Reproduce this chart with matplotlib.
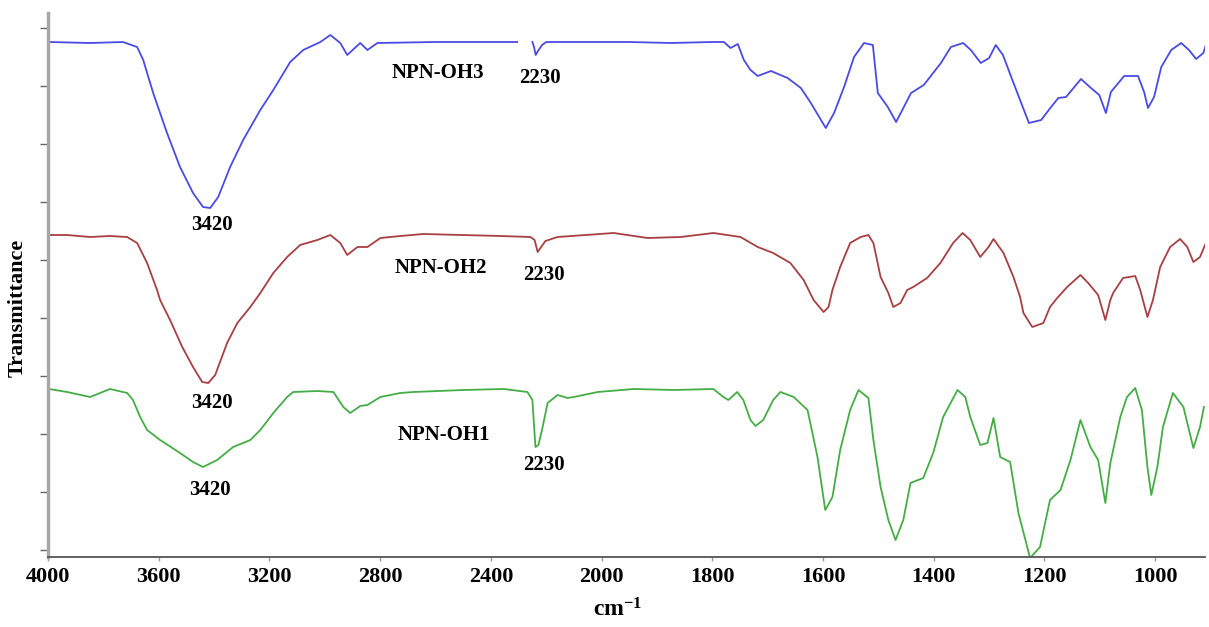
import numpy as np
import matplotlib
matplotlib.use("Agg")
import matplotlib.pyplot as plt

# ---------------- data (wavenumber cm-1, transmittance a.u.) ----------------
wn_oh3 = [3996, 3848, 3729, 3678, 3656, 3620, 3570, 3523, 3476, 3440, 3414, 3385, 3342, 3295,
          3233, 3186, 3125, 3078, 3016, 2980, 2944, 2919, 2872, 2846, 2810, 2600, 2400, 2305,
          2280, 2250, 2244, 2238, 2230, 2215, 2200, 2100, 1950, 1875, 1800, 1779, 1767, 1754,
          1743, 1731, 1718, 1694, 1664, 1640, 1622, 1595, 1580, 1562, 1544, 1526, 1510, 1501,
          1483, 1468, 1454, 1441, 1418, 1387, 1369, 1347, 1333, 1315, 1300, 1288, 1275, 1260,
          1242, 1228, 1206, 1188, 1175, 1161, 1134, 1116, 1101, 1089, 1080, 1056, 1031, 1020,
          1013, 1002, 989, 971, 953, 939, 926, 913, 908]
t_oh3 = [515, 514, 515, 510, 497, 464, 424, 390, 364, 350, 349, 360, 390, 417,
         447, 467, 495, 507, 515, 522, 514, 502, 514, 507, 514, 515, 515, 515,
         np.nan, 515, 510, 502, 506, 512, 515, 515, 515, 514, 515, 515, 509, 513,
         497, 487, 481, 486, 479, 469, 454, 429, 444, 470, 500, 514, 512, 464,
         450, 435, 450, 464, 472, 494, 510, 514, 507, 494, 499, 512, 502, 480,
         454, 434, 437, 450, 459, 460, 478, 469, 462, 444, 465, 481, 481, 465,
         449, 460, 490, 507, 514, 507, 498, 504, 513]

wn_oh2 = [3996, 3931, 3848, 3776, 3714, 3678, 3642, 3606, 3595, 3559, 3515, 3476, 3443, 3421,
          3396, 3353, 3316, 3269, 3233, 3186, 3136, 3089, 3027, 2980, 2944, 2919, 2882, 2846,
          2799, 2727, 2644, 2365, 2257, 2242, 2231, 2221, 2203, 2159, 1978, 1917, 1857, 1798,
          1749, 1718, 1690, 1659, 1635, 1617, 1599, 1590, 1583, 1569, 1551, 1532, 1518, 1509,
          1496, 1482, 1473, 1460, 1448, 1437, 1412, 1388, 1365, 1348, 1334, 1316, 1301, 1292,
          1274, 1256, 1244, 1238, 1222, 1202, 1190, 1177, 1159, 1135, 1121, 1103, 1090, 1081,
          1076, 1058, 1036, 1027, 1014, 1004, 991, 973, 955, 942, 931, 919, 910]
t_oh2 = [322, 322, 320, 321, 320, 314, 294, 267, 257, 237, 210, 190, 175, 174,
         182, 214, 234, 250, 264, 284, 300, 312, 317, 322, 314, 302, 310, 310,
         319, 321, 323, 321, 320, 317, 305, 309, 316, 320, 324, 319, 320, 324,
         320, 310, 304, 294, 277, 257, 245, 250, 267, 290, 314, 320, 322, 314,
         280, 264, 250, 254, 267, 270, 279, 294, 314, 324, 317, 300, 310, 318,
         304, 280, 260, 244, 230, 234, 250, 259, 270, 282, 274, 262, 237, 257,
         264, 279, 281, 267, 240, 257, 290, 310, 318, 310, 295, 300, 312]

wn_oh1 = [3996, 3931, 3848, 3776, 3714, 3693, 3667, 3642, 3595, 3523, 3476, 3440, 3389, 3331,
          3269, 3233, 3186, 3136, 3114, 3027, 2969, 2933, 2908, 2872, 2846, 2799, 2727, 2680,
          2499, 2354, 2268, 2250, 2239, 2228, 2213, 2195, 2159, 2123, 2101, 2014, 1942, 1870,
          1798, 1780, 1771, 1755, 1744, 1731, 1722, 1708, 1690, 1677, 1653, 1628, 1610, 1596,
          1583, 1569, 1551, 1536, 1518, 1509, 1496, 1482, 1469, 1455, 1442, 1419, 1401, 1383,
          1357, 1343, 1334, 1316, 1303, 1292, 1280, 1262, 1247, 1226, 1208, 1190, 1171, 1153,
          1135, 1117, 1103, 1090, 1081, 1063, 1051, 1036, 1024, 1014, 1007, 996, 986, 968,
          949, 931, 919, 912]
t_oh1 = [168, 165, 160, 168, 164, 157, 140, 127, 117, 104, 95, 90, 97, 110,
         117, 127, 144, 160, 165, 166, 165, 150, 144, 151, 152, 160, 164, 165,
         167, 168, 165, 157, 110, 112, 130, 154, 162, 159, 160, 165, 168, 167,
         168, 160, 157, 165, 157, 137, 131, 137, 157, 165, 160, 147, 100, 47,
         60, 107, 147, 167, 159, 117, 70, 37, 17, 37, 74, 79, 104, 140,
         167, 160, 140, 112, 114, 139, 100, 95, 44, -1, 10, 57, 67, 97,
         137, 110, 97, 54, 94, 140, 160, 169, 147, 90, 62, 90, 130, 164,
         150, 109, 130, 150]

x_ticks = [4000, 3600, 3200, 2800, 2400, 2000, 1800, 1600, 1400, 1200, 1000]
sample_names = ["NPN-OH3", "NPN-OH2", "NPN-OH1"]
peak_labels = ["3420", "2230"]

# ---------------- styling ----------------
plt.rcParams['font.family'] = ['Liberation Serif', 'DejaVu Serif']
plt.rcParams['font.weight'] = 'bold'
plt.rcParams['mathtext.fontset'] = 'custom'
plt.rcParams['mathtext.rm'] = 'Liberation Serif:bold'
plt.rcParams['mathtext.bf'] = 'Liberation Serif:bold'

W, H = 1209, 627
fig = plt.figure(figsize=(W / 100, H / 100), dpi=100)
ax = fig.add_axes([48 / W, 70 / H, (1205 - 48) / W, 544 / H])

# FTIR axis: scale doubles below 2000 cm-1
def fwd(w):
    w = np.asarray(w, dtype=float)
    return np.where(w >= 2000, w, 2 * w - 2000)

def inv(u):
    u = np.asarray(u, dtype=float)
    return np.where(u >= 2000, u, (u + 2000) / 2)

ax.set_xscale('function', functions=(fwd, inv))
ax.set_xlim(4000, 910)
ax.set_ylim(0, 544)

colors = ['#4a4ae6', '#a83f42', '#45ad45']
ax.plot(wn_oh3, t_oh3, color=colors[0], lw=1.3)
ax.plot(wn_oh2, t_oh2, color=colors[1], lw=1.3)
ax.plot(wn_oh1, t_oh1, color=colors[2], lw=1.3)

ax.set_xticks(x_ticks)
ax.set_xticklabels([str(t) for t in x_ticks])
ax.set_yticks(np.arange(7, 544, 58))
ax.set_yticklabels([])
ax.xaxis.set_minor_locator(matplotlib.ticker.NullLocator())
ax.yaxis.set_minor_locator(matplotlib.ticker.NullLocator())
ax.tick_params(axis='x', direction='out', length=3, width=1, color='#999999',
               labelsize=16, pad=4)
ax.tick_params(axis='y', direction='out', length=6, width=1, color='#666666')
for lab in ax.get_xticklabels():
    lab.set_fontweight('bold')

for s in ['top', 'right']:
    ax.spines[s].set_visible(False)
ax.spines['left'].set_color('#a8a8a8')
ax.spines['left'].set_linewidth(2.5)
ax.spines['bottom'].set_color('#555555')
ax.spines['bottom'].set_linewidth(1.3)

fs = 15
# sample names
ax.text(2590, 484, sample_names[0], fontsize=fs, fontweight='bold', ha='center', va='center')
ax.text(2582, 289, sample_names[1], fontsize=fs, fontweight='bold', ha='center', va='center')
ax.text(2571, 122, sample_names[2], fontsize=fs, fontweight='bold', ha='center', va='center')
# peak labels
ax.text(3407, 332, peak_labels[0], fontsize=fs, fontweight='bold', ha='center', va='center')
ax.text(3407, 154, peak_labels[0], fontsize=fs, fontweight='bold', ha='center', va='center')
ax.text(3414, 67, peak_labels[0], fontsize=fs, fontweight='bold', ha='center', va='center')
ax.text(2221, 479, peak_labels[1], fontsize=fs, fontweight='bold', ha='center', va='center')
ax.text(2210, 282, peak_labels[1], fontsize=fs, fontweight='bold', ha='center', va='center')
ax.text(2210, 92, peak_labels[1], fontsize=fs, fontweight='bold', ha='center', va='center')

fig.text(18 / W, 1 - 308 / H, 'Transmittance', rotation=90, fontsize=16,
         fontweight='bold', ha='center', va='center')
fig.text(618 / W, 1 - 610 / H, r'$\mathbf{cm^{-1}}$', fontsize=17,
         ha='center', va='center')

fig.savefig('out.png', dpi=100)
